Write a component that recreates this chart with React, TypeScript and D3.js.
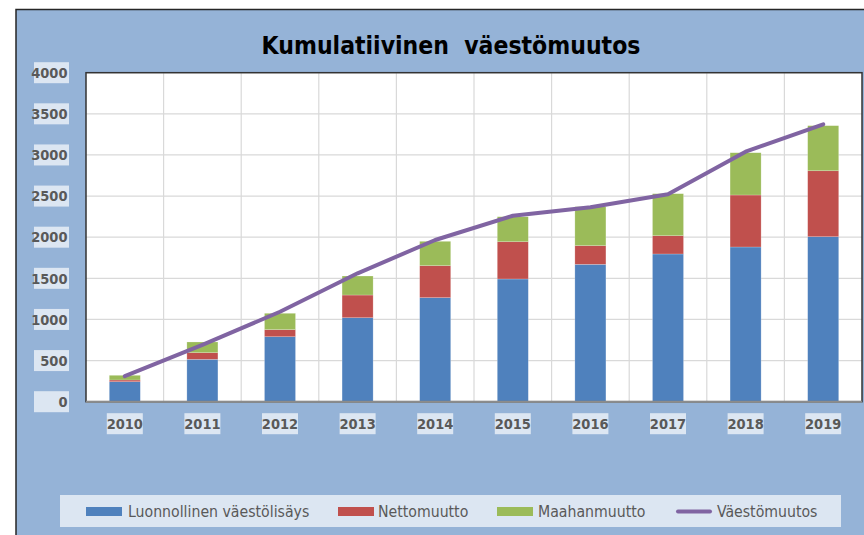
import React from "react";
import * as d3 from "d3";

const years = ["2010", "2011", "2012", "2013", "2014", "2015", "2016", "2017", "2018", "2019"];
const luonnollinen = [243, 515, 790, 1021, 1265, 1492, 1670, 1796, 1881, 2006];
const nettomuutto = [21, 81, 86, 276, 389, 453, 227, 222, 632, 802];
const maahanmuutto = [57, 130, 199, 231, 296, 304, 474, 511, 514, 548];
const vaestomuutos = [310, 690, 1094, 1561, 1966, 2261, 2365, 2521, 3040, 3373];
const yTicks = [0, 500, 1000, 1500, 2000, 2500, 3000, 3500, 4000];

const seriesNames = ["Luonnollinen väestölisäys", "Nettomuutto", "Maahanmuutto"];
const seriesColors = ["#4F81BD", "#C0504D", "#9BBB59"];
const lineName = "Väestömuutos";
const lineColor = "#8064A2";

const W = 864, H = 535;
const margin = { top: 72.7, right: 2, bottom: 133.3, left: 86 };
const FONT = "'Liberation Sans Narrow', 'Arial Narrow', 'DejaVu Sans Condensed', sans-serif";

export default function App() {
  const plotW = W - margin.left - margin.right;
  const plotH = H - margin.top - margin.bottom;

  const x = d3.scaleBand().domain(years).range([0, plotW]).paddingInner(0.6).paddingOuter(0.3);
  const y = d3.scaleLinear().domain([0, 4000]).range([plotH, 0]);

  const table = years.map((yr, i) => ({
    year: yr,
    s0: luonnollinen[i],
    s1: nettomuutto[i],
    s2: maahanmuutto[i],
  }));
  const stacked = d3.stack<any>().keys(["s0", "s1", "s2"])(table);

  const line = d3.line<number>()
    .x((_, i) => (x(years[i]) as number) + x.bandwidth() / 2)
    .y(d => y(d));

  const step = x.step();
  const vLines = d3.range(1, years.length).map(i => i * step);

  // legend layout: swatch x, text x
  const legendItems = [
    { name: seriesNames[0], color: seriesColors[0], sx: 86, tx: 128, kind: "rect" },
    { name: seriesNames[1], color: seriesColors[1], sx: 338, tx: 378, kind: "rect" },
    { name: seriesNames[2], color: seriesColors[2], sx: 497, tx: 538, kind: "rect" },
    { name: lineName, color: lineColor, sx: 676, tx: 717, kind: "line" },
  ];

  return (
    <svg width={W} height={H} style={{ position: "absolute", left: 0, top: 0, background: "#fff" }} fontFamily={FONT}>
      <rect x={16} y={9.5} width={W} height={H} fill="#95B3D7" stroke="#262626" strokeWidth={1.5} />
      <text x={451} y={54} textAnchor="middle" fontSize={24.5} fontWeight="bold" fill="#000" style={{ whiteSpace: "pre" }}>
        {"Kumulatiivinen  väestömuutos"}
      </text>

      <g transform={`translate(${margin.left},${margin.top})`}>
        <rect x={0} y={0} width={plotW} height={plotH} fill="#fff" />
        {yTicks.map(t => (
          <line key={"h" + t} x1={0} x2={plotW} y1={y(t)} y2={y(t)} stroke="#D9D9D9" strokeWidth={1.2} />
        ))}
        {vLines.map(v => (
          <line key={"v" + v} x1={v} x2={v} y1={0} y2={plotH} stroke="#D9D9D9" strokeWidth={1.2} />
        ))}
        {stacked.map((layer, li) => (
          <g key={li} fill={seriesColors[li]}>
            {layer.map((d, i) => (
              <rect key={i} x={x(years[i])} width={x.bandwidth()} y={y(d[1])} height={y(d[0]) - y(d[1])}
                stroke="#ffffff" strokeOpacity={0.35} strokeWidth={0.6} />
            ))}
          </g>
        ))}
        <path d={line(vaestomuutos) || ""} fill="none" stroke={lineColor} strokeWidth={4} strokeLinecap="round" strokeLinejoin="round" />
        <rect x={0} y={0} width={plotW} height={plotH} fill="none" stroke="#333" strokeWidth={1.5} />
        <line x1={0} x2={plotW} y1={plotH} y2={plotH} stroke="#8C8C8C" strokeWidth={2} />

        {yTicks.map(t => (
          <g key={"yl" + t} transform={`translate(-17,${y(t)})`}>
            <rect x={-35} y={-10.5} width={35} height={21} fill="#DCE6F2" />
            <text x={-1.5} y={0} dy="0.36em" textAnchor="end" fontSize={14.5} fontWeight="bold" fill="#595959">{t}</text>
          </g>
        ))}
        {years.map(yr => (
          <g key={"xl" + yr} transform={`translate(${(x(yr) as number) + x.bandwidth() / 2},${plotH + 22})`}>
            <rect x={-18} y={-10.5} width={36} height={21} fill="#DCE6F2" />
            <text x={0} y={0} dy="0.36em" textAnchor="middle" fontSize={14.5} fontWeight="bold" fill="#595959">{yr}</text>
          </g>
        ))}
      </g>

      <rect x={60} y={495} width={781} height={32} fill="#DCE6F2" />
      {legendItems.map(it => (
        <g key={it.name}>
          {it.kind === "rect"
            ? <rect x={it.sx} y={507} width={36} height={9} fill={it.color} />
            : <line x1={it.sx + 2} x2={it.sx + 34} y1={511.5} y2={511.5} stroke={it.color} strokeWidth={4} strokeLinecap="round" />}
          <text x={it.tx} y={511.5} dy="0.36em" fontSize={15.7} fill="#595959">{it.name}</text>
        </g>
      ))}
    </svg>
  );
}
